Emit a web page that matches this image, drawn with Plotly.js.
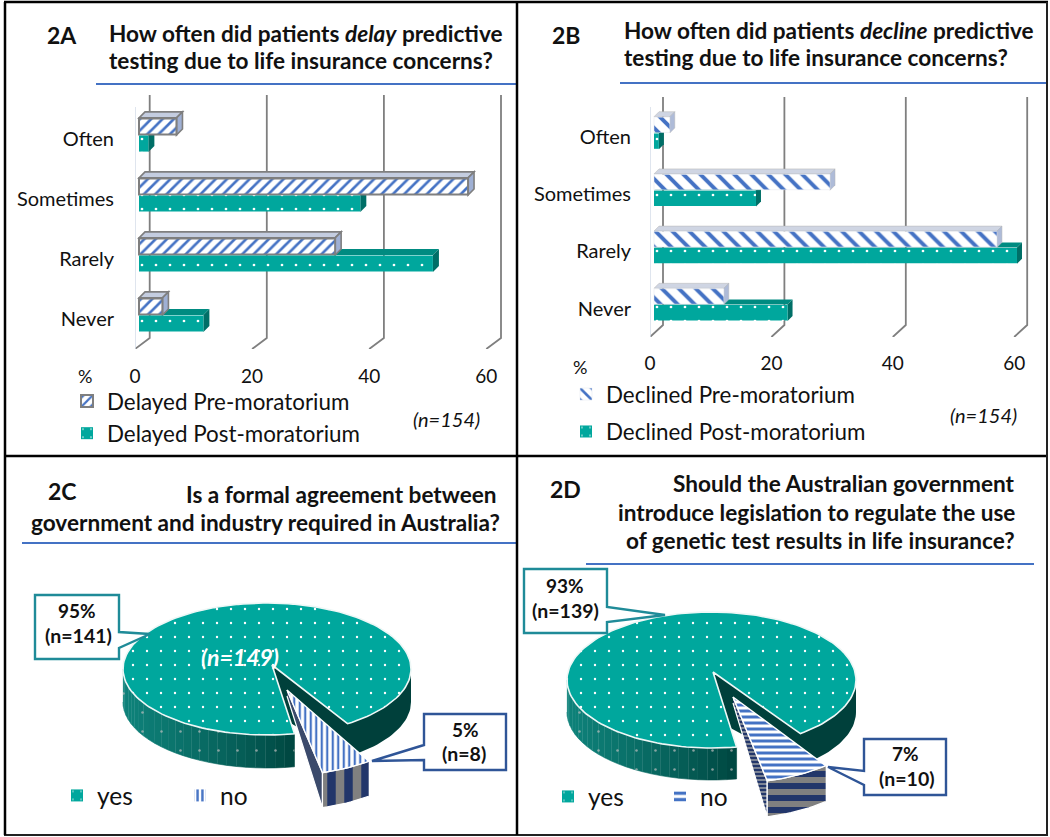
<!DOCTYPE html>
<html><head><meta charset="utf-8">
<script src="https://cdn.plot.ly/plotly-3.0.1.min.js"></script>
<style>html,body{margin:0;padding:0;background:#fff}#chart{width:1050px;height:837px}</style>
</head><body><div id="chart"></div>
<script>
// ---------- data ----------
const categories = ['Often','Sometimes','Rarely','Never'];
const delayedPre  = [6.4,56.2,33.5,4];
const delayedPost = [1.6,37.8,50.2,11];
const declinedPre  = [2.6,29,56.5,11.5];
const declinedPost = [0.8,16.8,59.8,22];
const xTicks = [0,20,40,60];
const agreementCounts = [141,8];
const legislationCounts = [139,10];
const pieLabels = ['yes','no'];

// ---------- style ----------
const W=1050,H=837,FONT='Lato, Carlito, sans-serif';
const TEAL='#00a79d',BLUE='#4472c4',GREY='#7f7f7f',TXT='#111111';
const traces=[],shapes=[],annotations=[];
const layout={width:W,height:H,margin:{l:0,r:0,t:0,b:0},paper_bgcolor:'#fff',plot_bgcolor:'rgba(0,0,0,0)',
  showlegend:true,barmode:'group',bargap:0.43,bargroupgap:0.06,font:{family:FONT,color:TXT},hovermode:false};
// page axes: one unit = one pixel
layout.xaxis5={domain:[0,1],range:[0,W],visible:false,fixedrange:true,anchor:'y5'};
layout.yaxis5={domain:[0,1],range:[H,0],visible:false,fixedrange:true,anchor:'x5'};
const note=(x,y,text,size,o={})=>annotations.push(Object.assign({xref:'x5',yref:'y5',x,y,text,showarrow:false,
  xanchor:'center',yanchor:'middle',font:{family:FONT,size,color:TXT}},o));
const rule=(x0,x1,y,color,w)=>shapes.push({type:'line',xref:'x5',yref:'y5',x0,x1,y0:y,y1:y,line:{color,width:w},layer:'above'});
const vrule=(x,y0,y1,color,w)=>shapes.push({type:'line',xref:'x5',yref:'y5',x0:x,x1:x,y0,y1,line:{color,width:w},layer:'above'});

// ---------- bar panels ----------
function barPanel(p){
  const s=p.id===1?'':p.id, xa='x'+s, ya='y'+s;
  const left=p.zeroPx, right=p.rightPx, top=p.topPx, bot=p.bottomPx;
  const idx=px=>(px-p.firstCatPx)/p.catStep;
  layout['xaxis'+s]={domain:[left/W,right/W],range:[0,(right-left)/p.pxPerUnit],anchor:'y'+s,tickmode:'array',tickvals:xTicks,
    showgrid:false,zeroline:false,showline:false,ticks:'',ticklabelstandoff:p.xStandoff,tickfont:{family:FONT,size:p.xTickSize,color:TXT},fixedrange:true};
  layout['yaxis'+s]={domain:[1-bot/H,1-top/H],range:[idx(bot),idx(top)],anchor:'x'+s,type:'category',categoryorder:'array',categoryarray:categories,
    showgrid:false,zeroline:false,showline:false,ticks:'',ticklabelstandoff:p.yStandoff,ticklabelshift:p.yShift,tickfont:{family:FONT,size:p.tickSize,color:TXT},fixedrange:true};
  const ddx=p.depth/p.pxPerUnit, ddy=p.depth/p.catStep, base=p.barInset/p.pxPerUnit;
  const gx=p.gridDx/p.pxPerUnit, gbend=idx(p.gridBendPx), gtop=idx(p.gridTopPx), gend=idx(bot);
  // grid walls
  xTicks.forEach(t=>shapes.push({type:'path',xref:xa,yref:ya,layer:'below',
    path:`M${t+gx},${gtop}L${t+gx},${gbend}L${t},${gend}`,line:{color:GREY,width:1.8}}));
  shapes.push({type:'line',xref:xa,yref:ya,layer:'below',x0:0,x1:0,y0:idx(p.wallTopPx),y1:gend,line:{color:'#d5dce8',width:1.5}});
  // bar side and top faces (under the front faces)
  const w=(1-layout.bargap)/2;
  const faces=(vals,off,fillTop,fillSide,line)=>vals.forEach((v,i)=>{
    const yt=i+off-w, yb=i+off, x0=base, x1=base+v;
    shapes.push({type:'path',xref:xa,yref:ya,layer:'below',fillcolor:fillTop,line,
      path:`M${x0},${yt}L${x1},${yt}L${x1+ddx},${yt-ddy}L${x0+ddx},${yt-ddy}Z`});
    shapes.push({type:'path',xref:xa,yref:ya,layer:'below',fillcolor:fillSide,line,
      path:`M${x1},${yt}L${x1+ddx},${yt-ddy}L${x1+ddx},${yb-ddy}L${x1},${yb}Z`});
  });
  faces(p.post,w,'#008b81','#006f67',{width:0});
  faces(p.pre,0,p.preTop,p.preSide,p.preFaceLine);
  traces.push({type:'bar',orientation:'h',name:p.preName,y:categories,x:p.pre,base,xaxis:xa,yaxis:ya,legend:p.legend,legendgroup:p.preName,
    marker:{color:'#fff',line:{color:p.preLine,width:p.preLineW},pattern:{shape:p.hatch,fgcolor:BLUE,bgcolor:'#fff',size:p.hatchSize,solidity:0.33}}});
  traces.push({type:'bar',orientation:'h',name:p.postName,y:categories,x:p.post,base,xaxis:xa,yaxis:ya,legend:p.legend,legendgroup:p.postName,
    marker:{color:TEAL,line:{width:0},pattern:{shape:'.',fgcolor:'#fff',bgcolor:TEAL,size:14,solidity:0.03}}});
  layout[p.legend]={x:p.legendX/W,y:1-p.legendY/H,xanchor:'left',yanchor:'top',bgcolor:'rgba(0,0,0,0)',borderwidth:0,
    tracegroupgap:p.legendGap,traceorder:'grouped',font:{family:FONT,size:p.legendSize,color:TXT}};
}
barPanel({id:1,pre:delayedPre,post:delayedPost,preName:'Delayed Pre-moratorium',postName:'Delayed Post-moratorium',legend:'legend',
  zeroPx:135,rightPx:510,topPx:90,bottomPx:349,firstCatPx:135,catStep:60,pxPerUnit:5.855,barInset:4,depth:6,gridDx:14.7,gridTopPx:95,gridBendPx:338,wallTopPx:107,
  xStandoff:14,yStandoff:20,yShift:-4,tickSize:20,xTickSize:19,hatch:'/',hatchSize:8,preLine:GREY,preLineW:2,preTop:'#c4cde0',preSide:'#9fb0d4',preFaceLine:{color:GREY,width:1.6},
  legendX:67,legendY:380,legendGap:0,legendSize:22.4});
barPanel({id:2,pre:declinedPre,post:declinedPost,preName:'Declined Pre-moratorium',postName:'Declined Post-moratorium',legend:'legend2',
  zeroPx:650,rightPx:1040,topPx:90,bottomPx:337,firstCatPx:133,catStep:57.2,pxPerUnit:6.07,barInset:4,depth:5,gridDx:13,gridTopPx:97,gridBendPx:325,wallTopPx:107,
  xStandoff:13,yStandoff:18,yShift:-4,tickSize:20,xTickSize:19,hatch:'\\',hatchSize:12,preLine:'#e2e6ee',preLineW:0.5,preTop:'#cfd5e3',preSide:'#aebbd8',preFaceLine:{color:'#b5b5b5',width:0.5},
  legendX:566,legendY:373,legendGap:5.3,legendSize:22.4});

// ---------- 3D pies, every angle derives from the counts ----------
const page={xaxis:'x5',yaxis:'y5',type:'scatter',mode:'lines',fill:'toself',hoverinfo:'skip',showlegend:false};
const poly=(pts,o)=>traces.push(Object.assign({},page,{x:pts.map(p=>p[0]),y:pts.map(p=>p[1])},o));
const arcPts=(cx,cy,rx,ry,a0,a1,dy=0)=>{const n=Math.max(2,Math.ceil(Math.abs(a1-a0)/2)),r=[];
  for(let i=0;i<=n;i++){const a=(a0+(a1-a0)*i/n)*Math.PI/180;r.push([cx+rx*Math.cos(a),cy+ry*Math.sin(a)+dy]);}return r;};
const mix=(a,b,t)=>'rgb('+a.map((v,i)=>Math.round(v+(b[i]-v)*t)).join(',')+')';
const NL={width:0,color:'rgba(0,0,0,0)'};
function pie3d(p){
  const span=p.counts[1]/(p.counts[0]+p.counts[1])*360, a0=p.start, a1=p.start+span;
  const {cx,cy,rx,ry,h,ax,ay}=p;
  // right wall
  poly([...arcPts(cx,cy,rx,ry,0,a0+4),...arcPts(cx,cy,rx,ry,a0+4,0,h)],{fillcolor:'#00403b',line:NL});
  // curved front-left wall as graded strips
  const N=26,aEnd=p.leftEdge;
  for(let i=0;i<N;i++){const s=180+(aEnd-180)*i/N,e=180+(aEnd-180)*(i+1)/N,t=i/(N-1);
    poly([...arcPts(cx,cy,rx,ry,s,e),...arcPts(cx,cy,rx,ry,e,s,h)],{fillcolor:mix([14,130,122],[0,72,66],t*t),line:{width:0.6,color:mix([14,130,122],[0,72,66],t*t)}});}
  poly([...arcPts(cx,cy,rx,ry,180,aEnd),...arcPts(cx,cy,rx,ry,aEnd,180,h)],{fillcolor:'rgba(0,0,0,0)',line:NL,
    fillpattern:{shape:'.',fgcolor:'rgba(190,190,190,0.7)',bgcolor:'rgba(0,0,0,0)',size:19,solidity:0.014}});
  // the notch left by the pulled-out slice
  const e0=arcPts(cx,cy,rx,ry,a0,a0).pop();
  poly([[ax,ay],e0,[e0[0],e0[1]+h],[ax+10,ay+h+20]],{fillcolor:'#00403b',line:NL});
  // top of the big slice
  poly([[ax,ay],...arcPts(cx,cy,rx,ry,a0,-360+p.leftEdge),[ax,ay]],
    {name:pieLabels[0],fillcolor:TEAL,line:{color:'#eef7f6',width:1.6},fillpattern:{shape:'.',fgcolor:'#fff',bgcolor:TEAL,size:14,solidity:0.022}});
  // pulled-out slice
  const [wx,wy]=p.wedgeApex, R=[p.wedgeRx,p.wedgeRy];
  const outer=arcPts(wx,wy,R[0],R[1],a0-p.wedgeOff,a1-p.wedgeOff), oA=outer[outer.length-1];
  poly([[wx,wy],oA,[oA[0],oA[1]+p.wedgeH],[wx,wy+6]],Object.assign({fillcolor:'#3b4a6b',line:{color:'#fff',width:1.2}},
    p.sidePattern?{fillpattern:p.sidePattern}:{}));
  poly([...outer,...outer.slice().reverse().map(q=>[q[0],q[1]+p.wedgeH])],{fillcolor:'#5a6a80',line:{color:'#fff',width:1.2},
    fillpattern:{shape:p.wallShape,fgcolor:'#22366a',bgcolor:'#808080',size:p.wallSize,solidity:0.5}});
  poly([[wx,wy],...outer,[wx,wy]],{name:pieLabels[1],fillcolor:'#fff',line:{color:'#fff',width:1.4},
    fillpattern:{shape:p.topShape,fgcolor:BLUE,bgcolor:'#fff',size:p.topSize,solidity:p.topSolid}});
  // legend keys
  const lg=p.legend;
  traces.push({type:'bar',name:pieLabels[0],x:[-100],y:[-100],xaxis:'x5',yaxis:'y5',legend:lg,
    marker:{color:TEAL,line:{width:0},pattern:{shape:'.',fgcolor:'#fff',bgcolor:TEAL,size:14,solidity:0.02}}});
  traces.push({type:'bar',name:pieLabels[1],x:[-100],y:[-100],xaxis:'x5',yaxis:'y5',legend:lg,
    marker:{color:'#fff',line:{width:0},pattern:{shape:p.topShape,fgcolor:BLUE,bgcolor:'#fff',size:p.legendHatch,solidity:0.5}}});
  layout[lg]={x:p.legendX/W,y:1-p.legendY/H,xanchor:'left',yanchor:'top',orientation:'h',entrywidthmode:'pixels',entrywidth:p.legendEntry,
    bgcolor:'rgba(0,0,0,0)',borderwidth:0,traceorder:'normal',font:{family:FONT,size:24.5,color:TXT}};
}
pie3d({counts:agreementCounts,start:56,leftEdge:79,cx:267,cy:669,rx:144,ry:66,h:33,ax:272,ay:665,
  wedgeApex:[287,690],wedgeRx:150,wedgeRy:85,wedgeOff:-1,wedgeH:35,topShape:'|',topSize:5.5,topSolid:0.4,wallShape:'|',wallSize:17,
  sidePattern:null,legend:'legend3',legendX:57,legendY:773,legendEntry:78,legendHatch:6});
pie3d({counts:legislationCounts,start:52,leftEdge:80,cx:711.5,cy:680,rx:144.5,ry:68,h:32,ax:713,ay:672,
  wedgeApex:[733,697],wedgeRx:154,wedgeRy:86,wedgeOff:-1,wedgeH:36,topShape:'-',topSize:6,topSolid:0.5,wallShape:'-',wallSize:12,
  sidePattern:{shape:'-',fgcolor:'#22366a',bgcolor:'#7d8596',size:4,solidity:0.5},legend:'legend4',legendX:548,legendY:774,legendEntry:67,legendHatch:8});

// ---------- callouts ----------
const callout=(path,color)=>shapes.push({type:'path',xref:'x5',yref:'y5',layer:'above',path,fillcolor:'#fff',line:{color,width:2.4}});
callout('M35,595H119V632L150,634L119,648V659H35Z','#1f8b98');
callout('M424,714H506V770H424V760L372,761L424,745Z','#2f5597');
callout('M524,569H607V607L665,615L607,622V633H524Z','#1f8b98');
callout('M864,739H946V795H864V785L828,767L864,771Z','#2f5597');
const B=t=>'<b>'+t+'</b>';
note(77,610,B('95%'),19);note(78,635,B('(n=141)'),19.5);
note(465,729,B('5%'),19);note(464,753,B('(n=8)'),19.5);
note(565,585,B('93%'),19);note(565,610,B('(n=139)'),19.5);
note(905,753,B('7%'),19);note(907,778,B('(n=10)'),19.5);
note(240,657,'<b><i>(n=149)</i></b>',23,{font:{family:FONT,size:23,color:'#fff'}});

// ---------- titles, frame ----------
const TS=22.6;
note(62,35,B('2A'),23);note(566,35,B('2B'),23);note(62,491,B('2C'),23);note(565,489,B('2D'),23);
const L={xanchor:'left'},Rt={xanchor:'right'};
note(107,33,B('How often did patients <i>delay</i> predictive'),TS,L);
note(107,60,B('testing due to life insurance concerns?'),TS,L);
note(622,30,B('How often did patients <i>decline</i> predictive'),TS,L);
note(622,57,B('testing due to life insurance concerns?'),TS,L);
note(499,494,B('Is a formal agreement between'),TS,Rt);
note(502,522,B('government and industry required in Australia?'),TS,Rt);
note(1017,483,B('Should the Australian government'),TS,Rt);
note(1017,512,B('introduce legislation to regulate the use'),TS,Rt);
note(1017,540,B('of genetic test results in life insurance?'),TS,Rt);
note(85,376,'%',18);note(580,367,'%',18);
note(446,419,'<i>(n=154)</i>',20);note(983,415,'<i>(n=154)</i>',20);
rule(96,517,84,BLUE,2);rule(620,1046,83,BLUE,2);rule(22,516,543,BLUE,2);rule(586,1034,564,BLUE,2);
rule(4,1048,2,'#000',2.5);rule(4,1048,456,'#000',2.5);rule(4,1048,835,'#222',2);
vrule(5,2,835,'#000',2.5);vrule(517,2,835,'#000',2.5);vrule(1047,2,835,'#222',2);

layout.shapes=shapes;layout.annotations=annotations;
Plotly.newPlot('chart',traces,layout,{displayModeBar:false,responsive:false});
</script></body></html>
